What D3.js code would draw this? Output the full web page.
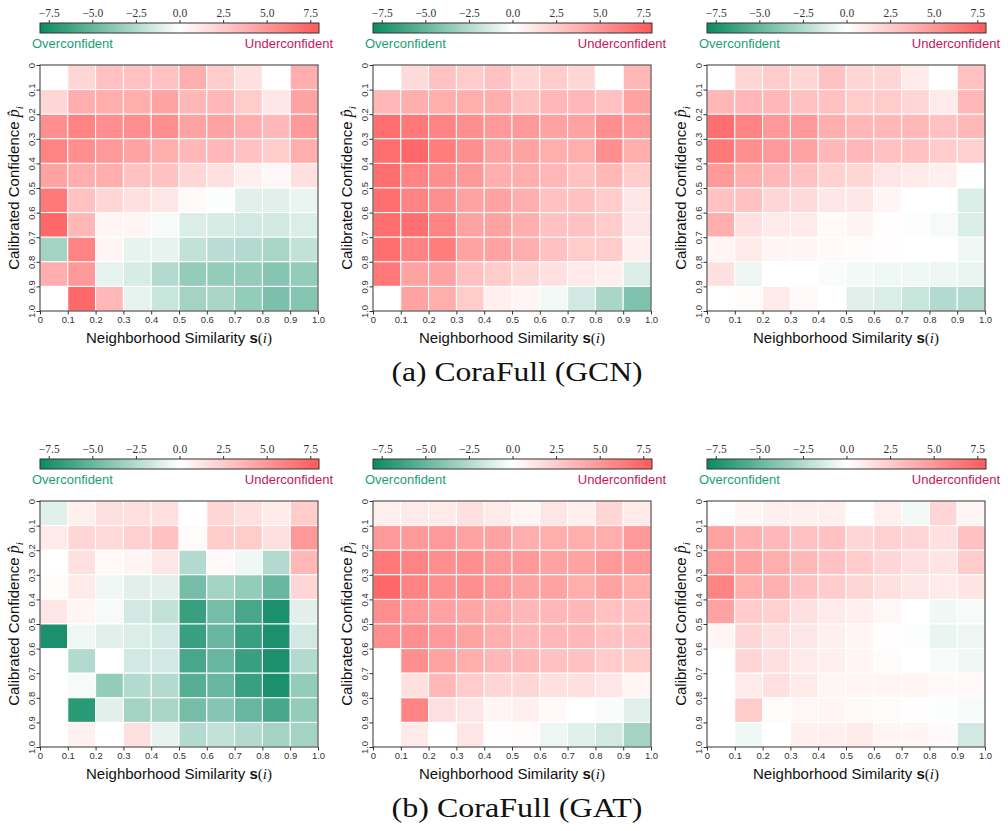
<!DOCTYPE html>
<html>
<head>
<meta charset="utf-8">
<script src="https://cdn.jsdelivr.net/npm/d3@7"></script>
<style>
  body { margin: 0; background: #fff; }
</style>
</head>
<body>
<div id="chart"></div>
<script>
"use strict";

// tick labels
var binTicks = ["0", "0.1", "0.2", "0.3", "0.4", "0.5", "0.6", "0.7", "0.8", "0.9", "1.0"];
var cbTicks = [-7.5, -5, -2.5, 0, 2.5, 5, 7.5];
var captions = ["(a) CoraFull (GCN)", "(b) CoraFull (GAT)"];

// rows: confidence bin 0-0.1 (top) ... 0.9-1.0 (bottom); cols: similarity bin 0-0.1 ... 0.9-1.0
var gcnA = [
  [0, 2, 3, 3, 3, 4, 2.5, 1.5, 0, 4],
  [2, 4, 4, 4, 4.5, 3.5, 3.5, 2.5, 1.2, 4.5],
  [5.5, 6, 5.5, 5.5, 5.5, 4.5, 4.5, 4, 3.5, 5],
  [6, 5.5, 5, 4.5, 4, 3.5, 3.5, 3, 2.5, 4],
  [4.5, 4, 4, 3, 3, 2, 1.5, 0.8, 0.4, 1.5],
  [6.5, 3, 2, 1.5, 1.2, 0.3, -0.1, -1, -1, -0.7],
  [7.3, 3.5, 0.5, 0.5, -0.3, -1.2, -1.3, -1.5, -1.5, -1.2],
  [-3, 6, 0.5, -0.8, -0.8, -2, -2.3, -2.5, -2.8, -2],
  [4, 5, -0.8, -1.3, -2.5, -3.5, -3.5, -3.5, -4, -3.5],
  [0, 7.3, 3.5, -0.8, -1.8, -3, -2.8, -3.5, -4.3, -4]
];
var gcnB = [
  [0, 1.8, 3, 2.5, 3, 2, 2.5, 2, 0, 3.5],
  [3.5, 4, 4, 4, 4, 3, 3.5, 3.5, 3, 4.5],
  [7, 6.5, 6, 5.5, 5, 5, 4.5, 4.5, 5.5, 5],
  [7, 7.3, 6.3, 5.5, 4.5, 4.5, 4, 4, 5.5, 4],
  [7, 6, 5.5, 5, 4, 4, 3.5, 3, 3.5, 2.5],
  [7, 6, 5.5, 4.5, 4.5, 4, 3, 3, 2.5, 1.2],
  [7, 7, 6, 4.5, 4.5, 4, 3, 3, 2.5, 1.2],
  [7, 6, 6.3, 4.5, 4.5, 4, 3, 2.5, 2.5, 0.8],
  [6.5, 4.5, 4.5, 3, 2.5, 2, 1.5, 1, 0.8, -1.2],
  [0, 4.5, 4, 2.5, 0.8, 0.5, -0.4, -1.5, -2.8, -4.2]
];
var gcnC = [
  [0, 2, 2.5, 2, 3, 2, 2, 1, 0, 3],
  [3.5, 3.5, 3.5, 3, 3, 2.5, 2.5, 2, 1, 3.5],
  [7, 6, 5, 5, 4, 3.5, 3.5, 3.5, 3, 3.5],
  [6.5, 5.5, 5, 4.5, 3.5, 3.5, 3, 3, 2.5, 2.3],
  [5, 4, 3.5, 3, 2.3, 2, 1.2, 1, 0.8, 0],
  [3, 3, 2, 1.8, 1.2, 1.2, 0.5, 0, 0, -1.2],
  [4, 1.5, 1, 1, 0.3, 0.6, 0.1, -0.1, -0.3, -1.2],
  [0.5, 1, 0.5, 0.5, 0.3, 0.2, 0.1, 0, 0, -0.5],
  [1.5, -0.6, 0, 0, -0.2, -0.4, -0.5, -0.5, -0.6, -0.7],
  [0, 0.2, 1, 0.3, 0, -1, -1.2, -1.8, -2.5, -2.5]
];
var gatA = [
  [-1, 0.8, 1.5, 1.5, 1.5, 0, 2, 1.5, 1, 2.5],
  [1, 2, 1.8, 2.3, 3, 0.2, 2.5, 2.5, 1.5, 5],
  [0, 1.5, 0.3, 0.5, 1.2, -2.5, 0.3, -0.5, -2.5, 3.5],
  [0.2, 1, -0.5, -1, -1, -4.5, -3, -3.5, -5, 2],
  [1.2, 0.5, -0.3, -1.5, -2, -6.5, -4.5, -6, -7.5, -1],
  [-7.5, -0.5, -1, -1.2, -1.5, -6.5, -5, -6.5, -7.5, -1.5],
  [0, -2.5, 0, -1.5, -1.5, -6, -5, -6.5, -7.5, -2.5],
  [0, -0.3, -3.5, -2.5, -2.5, -5.5, -5, -6.5, -7.5, -3.5],
  [0, -7, -1, -3, -2.8, -4.5, -4, -5, -6, -3.5],
  [0, 0.7, 0, 1.5, -0.8, -2.5, -2, -2.5, -3, -3]
];
var gatB = [
  [0.8, 1, 1, 1.5, 1, 0.5, 1.2, 0.8, 2, 1],
  [5, 5, 5, 4.5, 4.5, 4, 4, 4, 4, 5],
  [6.5, 6, 5.5, 5.5, 5, 5, 4.5, 4.5, 5, 5],
  [7.3, 6, 5.5, 5.5, 5, 4.5, 4.5, 4, 4.5, 4],
  [5.5, 5, 4.5, 4.3, 4, 3.5, 3.5, 3.5, 3, 3],
  [5.5, 5.5, 5, 4.5, 4, 3.5, 3.5, 3.5, 3, 3],
  [0, 5.5, 4.5, 4, 3.5, 3.5, 3, 3, 2.5, 2.5],
  [0, 1.5, 3.5, 2.5, 2, 2, 1.5, 1.5, 1.2, 0.5],
  [0, 6, 1.5, 1.2, 0.5, 0.8, 0.3, 0, -0.2, -1],
  [0, 1, 0, 1.2, 0.1, 0.2, -0.6, -1, -1.5, -3]
];
var gatC = [
  [0, 0.5, 0.8, 0.8, 0.8, 0, 0.8, -0.4, 2, 0.5],
  [4.5, 3.8, 3.5, 3, 3, 2, 2.3, 2, 1.5, 3],
  [5, 4.5, 4, 3.5, 3, 2.5, 2, 1.5, 1.3, 2.5],
  [6, 4, 3.8, 3, 2.5, 2, 1.5, 1.2, 1, 1.3],
  [4.5, 2.5, 2.3, 1.5, 1, 0.8, 0.4, 0, -0.5, -0.3],
  [0.5, 2, 1.5, 1.2, 0.8, 0.5, 0.1, -0.1, -0.7, -0.6],
  [0, 2, 1.5, 1, 0.8, 0.5, 0.2, 0, -0.3, -0.5],
  [0, 1, 1.5, 1, 0.5, 0.5, 0.5, 0.5, 0.3, 0.3],
  [0, 2.5, 0.2, 0.4, 0.5, 0.3, 0.2, 0.1, -0.1, -0.3],
  [0, -0.5, 0, 0.8, 0.8, 1, 0.5, 0.5, 0.3, -1.5]
];

var width = 1008,
  height = 831;

var panelX = [40, 373, 707],
  rowY = [65, 501],
  w = 278,
  h = 246;

var grids = [[gcnA, gcnB, gcnC], [gatA, gatB, gatC]];

var color = d3
  .scaleLinear()
  .domain([-8, 0, 8])
  .range(["#0b8a62", "#ffffff", "#ff5a5a"]);

var svg = d3
  .select("#chart")
  .append("svg")
  .attr("width", width)
  .attr("height", height);

// colorbar gradient
var grad = svg
  .append("defs")
  .append("linearGradient")
  .attr("id", "cbar");
d3.range(0, 1.0001, 0.05).forEach(function(t) {
  grad
    .append("stop")
    .attr("offset", t * 100 + "%")
    .attr("stop-color", color(-8 + 16 * t));
});

var x = d3.scaleLinear().domain([0, 1]).range([0, w]);
var y = d3.scaleLinear().domain([0, 1]).range([0, h]);
var cb = d3.scaleLinear().domain([-8, 8]).range([0, w + 1]);

function drawPanel(g, data) {
  // colorbar
  var cbar = g.append("g").attr("transform", "translate(0,-42)");
  cbar
    .append("rect")
    .attr("width", w + 1)
    .attr("height", 10)
    .attr("fill", "url(#cbar)")
    .attr("stroke", "#333")
    .attr("stroke-width", 1);
  var cbAxis = cbar
    .append("g")
    .call(
      d3
        .axisTop(cb)
        .tickValues(cbTicks)
        .tickSize(3)
        .tickPadding(3)
        .tickFormat(d3.format(".1f"))
    );
  cbAxis.select(".domain").remove();
  cbAxis
    .selectAll("text")
    .style("font-family", "Liberation Serif")
    .style("font-size", "11.5px")
    .attr("fill", "#333");
  cbAxis.selectAll("line").attr("stroke", "#333");

  cbar
    .append("text")
    .attr("x", -8)
    .attr("y", 25)
    .style("font-family", "Liberation Sans")
    .style("font-size", "13px")
    .attr("fill", "#1b9e77")
    .text("Overconfident");
  cbar
    .append("text")
    .attr("x", w + 15)
    .attr("y", 25)
    .attr("text-anchor", "end")
    .style("font-family", "Liberation Sans")
    .style("font-size", "13px")
    .attr("fill", "#c2185b")
    .text("Underconfident");

  // cells
  var cells = [];
  data.forEach(function(row, i) {
    row.forEach(function(v, j) {
      cells.push({ r: i, c: j, v: v });
    });
  });
  g.selectAll("rect.cell")
    .data(cells)
    .enter()
    .append("rect")
    .attr("class", "cell")
    .attr("x", d => x(d.c / 10))
    .attr("y", d => y(d.r / 10))
    .attr("width", x(0.1))
    .attr("height", y(0.1))
    .attr("fill", d => color(d.v))
    .attr("stroke", "#fff")
    .attr("stroke-width", 1);

  g.append("rect")
    .attr("width", w)
    .attr("height", h)
    .attr("fill", "none")
    .attr("stroke", "#333")
    .attr("stroke-width", 1);

  // axes
  var xa = g
    .append("g")
    .attr("transform", "translate(0," + h + ")")
    .call(
      d3
        .axisBottom(x)
        .tickValues(d3.range(11).map(d => d / 10))
        .tickSize(3.5)
        .tickPadding(2)
        .tickFormat((d, i) => binTicks[i])
    );
  var ya = g.append("g").call(
    d3
      .axisLeft(y)
      .tickValues(d3.range(11).map(d => d / 10))
      .tickSize(3.5)
      .tickFormat((d, i) => binTicks[i])
  );
  [xa, ya].forEach(function(a) {
    a.select(".domain").remove();
    a.selectAll("line").attr("stroke", "#333");
    a.selectAll("text")
      .style("font-family", "Liberation Sans")
      .style("font-size", "9.5px")
      .attr("fill", "#333");
  });
  ya.selectAll("text")
    .attr("x", 0)
    .attr("y", -5.5)
    .attr("dy", 0)
    .attr("transform", "rotate(-90)")
    .style("text-anchor", "middle");

  // axis titles
  var xt = g
    .append("text")
    .attr("x", w / 2)
    .attr("y", h + 32)
    .attr("text-anchor", "middle")
    .style("font-family", "Liberation Sans")
    .style("font-size", "15px")
    .attr("fill", "#111");
  xt.append("tspan").text("Neighborhood Similarity ");
  xt.append("tspan").style("font-weight", "bold").text("s");
  xt.append("tspan").style("font-family", "Liberation Serif").text("(");
  xt.append("tspan")
    .style("font-family", "Liberation Serif")
    .style("font-style", "italic")
    .text("i");
  xt.append("tspan").style("font-family", "Liberation Serif").text(")");

  var yt = g
    .append("text")
    .attr("transform", "translate(-21," + h / 2 + ") rotate(-90)")
    .attr("text-anchor", "middle")
    .style("font-family", "Liberation Sans")
    .style("font-size", "15px")
    .attr("fill", "#111");
  yt.append("tspan").text("Calibrated Confidence ");
  yt.append("tspan")
    .style("font-family", "Liberation Serif")
    .style("font-style", "italic")
    .style("font-size", "16px")
    .text("p\u0302");
  yt.append("tspan")
    .attr("dy", 4)
    .style("font-family", "Liberation Serif")
    .style("font-style", "italic")
    .style("font-size", "11px")
    .text("i");
}

grids.forEach(function(rowGrids, ri) {
  rowGrids.forEach(function(data, ci) {
    var g = svg
      .append("g")
      .attr("transform", "translate(" + panelX[ci] + "," + rowY[ri] + ")");
    drawPanel(g, data);
  });
  svg
    .append("text")
    .attr("x", 517)
    .attr("y", rowY[ri] + 316)
    .attr("text-anchor", "middle")
    .attr("textLength", 251)
    .attr("lengthAdjust", "spacingAndGlyphs")
    .style("font-family", "Liberation Serif")
    .style("font-size", "27px")
    .attr("fill", "#111")
    .text(captions[ri]);
});
</script>
</body>
</html>
